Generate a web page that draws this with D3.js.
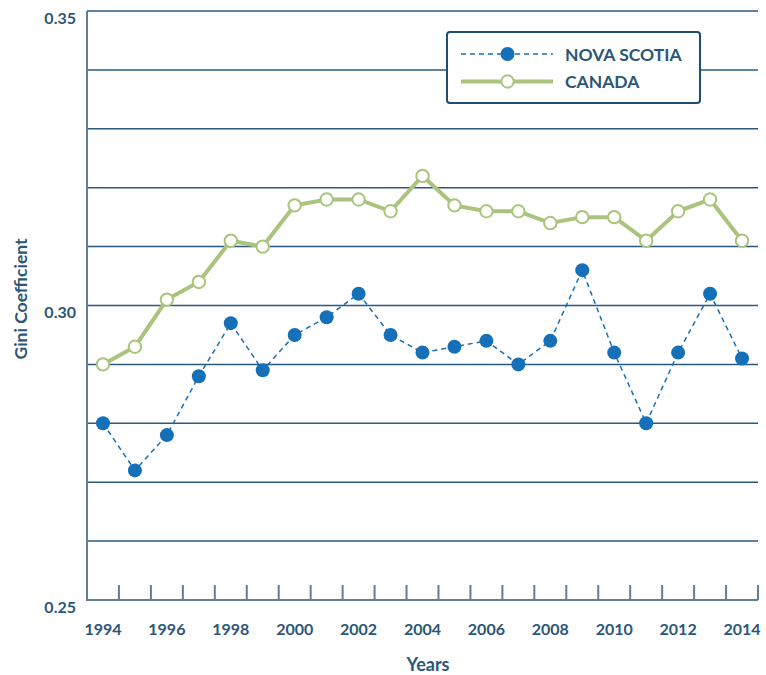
<!DOCTYPE html>
<html><head><meta charset="utf-8">
<script src="https://cdn.jsdelivr.net/npm/d3@7"></script>
<style>body{margin:0;background:#fff}svg{display:block}text{font-family:Lato,"Open Sans",sans-serif;font-weight:700;fill:#2c5677}</style>
</head><body><svg id="c" width="766" height="675"></svg>
<script>
const years = [1994,1995,1996,1997,1998,1999,2000,2001,2002,2003,2004,2005,2006,2007,2008,2009,2010,2011,2012,2013,2014];
const novaScotia = [0.280,0.272,0.278,0.288,0.297,0.289,0.295,0.298,0.302,0.295,0.292,0.293,0.294,0.290,0.294,0.306,0.292,0.280,0.292,0.302,0.291];
const canada = [0.290,0.293,0.301,0.304,0.311,0.310,0.317,0.318,0.318,0.316,0.322,0.317,0.316,0.316,0.314,0.315,0.315,0.311,0.316,0.318,0.311];
const yTickLabels = [0.25,0.30,0.35];
const gridValues = [0.26,0.27,0.28,0.29,0.30,0.31,0.32,0.33,0.34,0.35];
const xTickLabels = [1994,1996,1998,2000,2002,2004,2006,2008,2010,2012,2014];
const seriesNames = ["NOVA SCOTIA","CANADA"];

const svg = d3.select("#c");
const mLeft = 87, mRight = 758, mTop = 11, mBottom = 600;
const x = d3.scaleBand().domain(years).range([mLeft, mRight]).padding(0);
const xc = d => x(d) + x.bandwidth()/2;
const y = d3.scaleLinear().domain([0.25,0.35]).range([mBottom, mTop]);

const gridCol = "#2a5a7e", axisCol = "#5f7f98";
svg.append("g").selectAll("line").data(gridValues).join("line")
  .attr("x1", mLeft).attr("x2", mRight).attr("y1", d=>y(d)).attr("y2", d=>y(d))
  .attr("stroke", gridCol).attr("stroke-width", 1.5);

const xg = svg.append("g").attr("transform", `translate(0,${mBottom})`);
xg.append("line").attr("x1", mLeft).attr("x2", mRight).attr("stroke", axisCol).attr("stroke-width", 2);
xg.selectAll("line.tk").data(years).join("line").attr("class","tk")
  .attr("x1", d=>x(d)+x.bandwidth()).attr("x2", d=>x(d)+x.bandwidth())
  .attr("y1", 0).attr("y2", -15).attr("stroke", axisCol).attr("stroke-width", 2);
xg.selectAll("text").data(xTickLabels).join("text")
  .attr("x", d=>xc(d)).attr("y", 34.5).attr("text-anchor","middle")
  .attr("font-size", 16).text(d=>d);

svg.append("line").attr("x1", mLeft).attr("x2", mLeft).attr("y1", mTop).attr("y2", mBottom+1)
  .attr("stroke", axisCol).attr("stroke-width", 2);
svg.append("g").selectAll("text").data(yTickLabels).join("text")
  .attr("x", 76).attr("y", d=>y(d)+12.5).attr("text-anchor","end")
  .attr("font-size", 16).text(d=>d3.format(".2f")(d));

svg.append("text").attr("x", 428).attr("y", 671).attr("text-anchor","middle").attr("font-size", 18).text("Years");
svg.append("text").attr("transform", "translate(27,299) rotate(-90)").attr("text-anchor","middle").attr("font-size", 17.5).text("Gini Coefficient");

const nsCol = "#1570b8", caCol = "#a9c47c";
svg.append("path").datum(canada)
  .attr("d", d3.line().x((d,i)=>xc(years[i])).y(d=>y(d)))
  .attr("fill","none").attr("stroke", caCol).attr("stroke-width", 4);
svg.append("path").datum(novaScotia)
  .attr("d", d3.line().x((d,i)=>xc(years[i])).y(d=>y(d)))
  .attr("fill","none").attr("stroke", nsCol).attr("stroke-width", 1.5).attr("stroke-dasharray","5,4");
svg.append("g").selectAll("circle").data(canada).join("circle")
  .attr("cx",(d,i)=>xc(years[i])).attr("cy", d=>y(d)).attr("r", 6.2)
  .attr("fill","#fff").attr("stroke", caCol).attr("stroke-width", 2);
svg.append("g").selectAll("circle").data(novaScotia).join("circle")
  .attr("cx",(d,i)=>xc(years[i])).attr("cy", d=>y(d)).attr("r", 7)
  .attr("fill", nsCol);

const lg = svg.append("g");
lg.append("rect").attr("x",447).attr("y",32).attr("width",253).attr("height",71).attr("rx",3)
  .attr("fill","#fff").attr("stroke", "#1f4d70").attr("stroke-width", 2);
lg.append("line").attr("x1",461).attr("x2",553).attr("y1",54).attr("y2",54)
  .attr("stroke", nsCol).attr("stroke-width",1.5).attr("stroke-dasharray","5,4");
lg.append("circle").attr("cx",507.5).attr("cy",54).attr("r",7).attr("fill",nsCol);
lg.append("line").attr("x1",461).attr("x2",553).attr("y1",81.5).attr("y2",81.5)
  .attr("stroke", caCol).attr("stroke-width",4);
lg.append("circle").attr("cx",507.5).attr("cy",81.5).attr("r",6.2).attr("fill","#fff").attr("stroke",caCol).attr("stroke-width",2);
lg.selectAll("text").data(seriesNames).join("text")
  .attr("x",565).attr("y",(d,i)=>61+i*27).attr("font-size",17.5).text(d=>d);
</script></body></html>
